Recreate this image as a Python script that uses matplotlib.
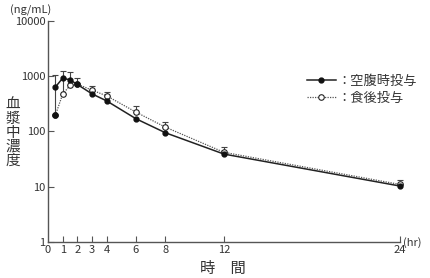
import matplotlib
matplotlib.use("Agg")
import matplotlib.pyplot as plt

plt.rcParams["font.family"] = ["Noto Sans CJK JP", "DejaVu Sans"]

# time points (hr)
times = [0.5, 1, 1.5, 2, 3, 4, 6, 8, 12, 24]
# plasma concentration (ng/mL)
fasting = [635, 923, 860, 710, 480, 358, 170, 95, 39, 10.3]
fed = [195, 473, 680, 720, 560, 442, 224, 120, 42, 11]
fed_upper = [1060, 1250, 1190, 935, 670, 527, 290, 150, 52, 13.3]

x_ticks = [1, 2, 3, 4, 6, 8, 12, 24]
x_labels = ["0", "1", "2", "3", "4", "6", "8", "12", "24"]
y_ticks = [1, 10, 100, 1000, 10000]
y_labels = ["1", "10", "100", "1000", "10000"]

axis_color = "#555555"
text_color = "#333333"

figure = plt.figure(figsize=(4.3, 2.78), dpi=100)
axis = figure.add_axes([0.1116, 0.1295, 0.8186, 0.795])

err = [[0] * len(fed), [u - v for u, v in zip(fed_upper, fed)]]
axis.errorbar(times, fed, yerr=err, fmt="none", ecolor="#444444",
              elinewidth=0.8, capsize=2.5, capthick=0.8, zorder=2)
(fed_line,) = axis.plot(times, fed, linestyle=(0, (1, 1)), color="#555555",
                        linewidth=0.9, marker="o", markersize=4,
                        markerfacecolor="white", markeredgecolor="#222222",
                        markeredgewidth=0.8, zorder=3)
axis.plot(times[:1], fed[:1], linestyle="none", marker="o", markersize=3.5,
          color="#111111", zorder=4)
(fasting_line,) = axis.plot(times, fasting, linestyle="-", color="#222222",
                            linewidth=1.1, marker="o", markersize=3.5,
                            markerfacecolor="#111111",
                            markeredgecolor="#111111", zorder=4)

axis.set_yscale("log")
axis.set_xlim(0, 24)
axis.set_ylim(1, 10000)
axis.set_yticks(y_ticks)
axis.set_yticklabels(y_labels)
axis.minorticks_off()
axis.set_xticks([0] + x_ticks)
axis.set_xticklabels(x_labels)
for spine in ["top", "right"]:
    axis.spines[spine].set_visible(False)
for spine in ["left", "bottom"]:
    axis.spines[spine].set_color(axis_color)
    axis.spines[spine].set_linewidth(1.0)
axis.tick_params(direction="in", length=4, width=0.8, color=axis_color,
                 labelsize=8, labelcolor=text_color, pad=2)
axis.xaxis.get_major_ticks()[0].tick1line.set_visible(False)
for line in axis.lines:
    line.set_clip_on(False)

figure.text(10 / 430, 1 - 10 / 278, "(ng/mL)", fontsize=8, color=text_color,
            va="center", ha="left")
figure.text(403 / 430, 1 - 243 / 278, "(hr)", fontsize=8, color=text_color,
            va="center", ha="left")
figure.text(13 / 430, 1 - 133 / 278, "\n".join("血漿中濃度"), fontsize=10.5,
            color=text_color, va="center", ha="center", linespacing=1.0)
figure.text(223 / 430, 1 - 268 / 278, "時　間", fontsize=11, color=text_color,
            va="center", ha="center")

legend = axis.legend(
    [fasting_line, fed_line], ["：空腹時投与", "：食後投与"],
    loc="upper left", bbox_to_anchor=(300 / 430, 1 - 68 / 278),
    bbox_transform=figure.transFigure, frameon=False, fontsize=9.5,
    handlelength=2.2, handletextpad=0.1, labelspacing=0.3, borderpad=0,
)
for text in legend.get_texts():
    text.set_color(text_color)

figure.savefig("out.png", dpi=100)
